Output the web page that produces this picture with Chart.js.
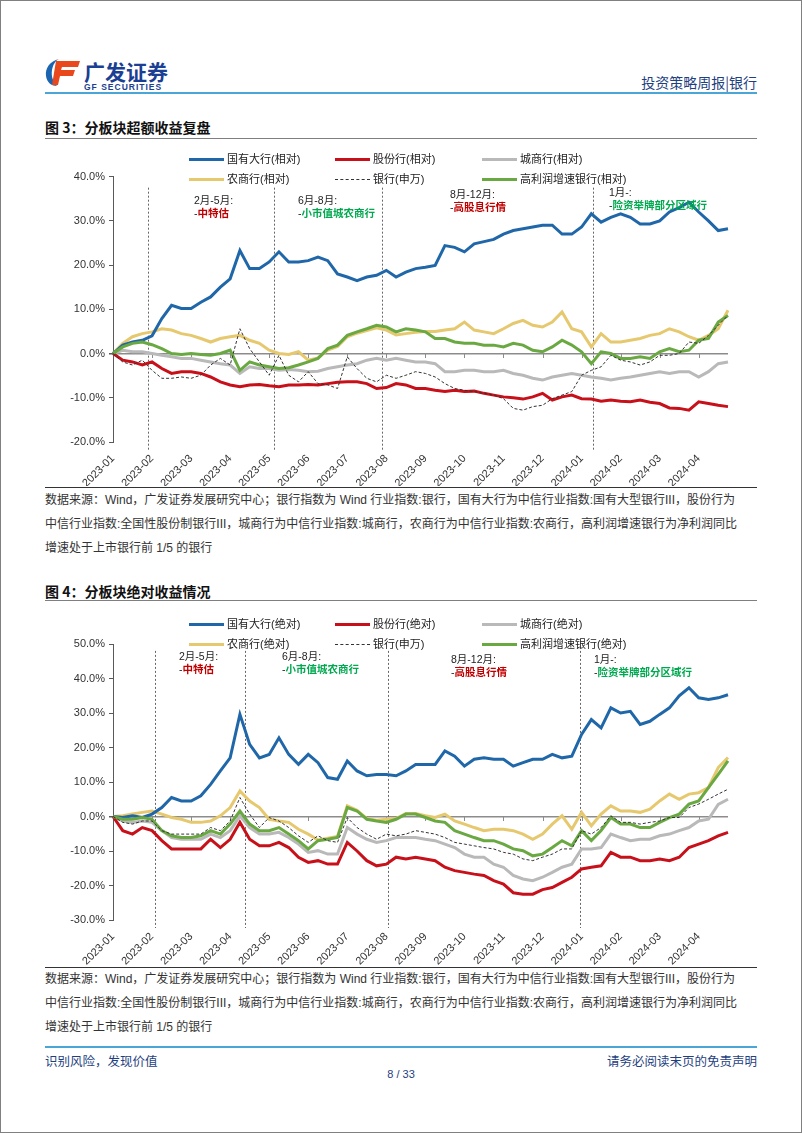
<!DOCTYPE html>
<html lang="zh">
<head>
<meta charset="UTF-8">
<title>分板块收益复盘</title>
<script src="https://cdn.jsdelivr.net/npm/chart.js@4.4.1/dist/chart.umd.min.js"></script>
<style>
    body { margin: 0; background: #fff; }
    .page {
        position: relative;
        width: 800px;
        height: 1131px;
        border: 1px solid #808080;
        font-family: "Liberation Sans", Arial, "Noto Sans CJK SC", sans-serif;
        color: #222;
        overflow: hidden;
    }
    .abs { position: absolute; white-space: nowrap; }
    .rule { position: absolute; left: 44px; width: 712px; }
    .brand { color: #1b3f93; font-weight: bold; line-height: 1; }
    .head-right { right: 44px; top: 71px; font-size: 14px; color: #1f3f7f; font-family: "Noto Sans CJK SC", sans-serif; }
    .fig-title { left: 44px; font-size: 14px; font-weight: bold; font-family: "Noto Sans CJK SC", sans-serif; color: #111; }
    .legend-item { position: absolute; display: flex; align-items: center; font-size: 11px; line-height: 16px; font-family: "Liberation Sans", "Noto Sans CJK SC", sans-serif; color: #222; }
    .legend-item i { display: inline-block; width: 35px; margin-right: 3px; }
    .note { left: 44px; font-size: 12px; line-height: 24px; color: #333; font-family: "Liberation Sans", "Noto Sans CJK SC", sans-serif; }
    .ann { font-size: 10.5px; line-height: 13px; font-family: "Liberation Sans", "Noto Sans CJK SC", sans-serif; }
    .red { color: #c00000; font-weight: bold; }
    .green { color: #00a84f; font-weight: bold; }
    .foot { top: 1050px; font-size: 12.5px; color: #1f3f7f; font-family: "Noto Sans CJK SC", sans-serif; }
    canvas { position: absolute; }
</style>
</head>
<body>
<div class="page" id="page">
    <!-- header -->
    <svg class="abs" style="left:44px;top:57px" width="36" height="29" viewBox="0 0 36 29">
        <path d="M14 1 C5 3 0 10 1 18 C2 25 7 28 12 28 C8 24 6 18 7 12 C8 7 10 3 14 1Z" fill="#1b64b0"/>
        <path d="M11 3 H35 L33 9 H17 L16 12 H30 L28 18 H15 L13 27 H7 Z" fill="#e8481c"/>
    </svg>
    <div class="abs brand" style="left:83px;top:60px;font-size:21px;font-family:'Noto Sans CJK SC',sans-serif;">广发证券</div>
    <div class="abs brand" style="left:83px;top:82px;font-size:8.5px;letter-spacing:1px;">GF SECURITIES</div>
    <div class="abs head-right">投资策略周报|银行</div>
    <div class="rule" style="top:91px;height:2px;background:#4ba6d8;"></div>

    <!-- figure 3 -->
    <div class="abs fig-title" style="top:116px;">图 3：分板块超额收益复盘</div>
    <div class="rule" style="top:137px;height:1px;background:#7f7f7f;"></div>
    <canvas id="chart1" width="712" height="320" style="left:44px;top:165px;width:712px;height:320px;"></canvas>
    <div class="abs ann" style="left:193px;top:193px;">2月-5月:<br>-<span class="red">中特估</span></div>
    <div class="abs ann" style="left:297px;top:193px;">6月-8月:<br>-<span class="green">小市值城农商行</span></div>
    <div class="abs ann" style="left:449px;top:187px;">8月-12月:<br>-<span class="red">高股息行情</span></div>
    <div class="abs ann" style="left:608px;top:185px;">1月-:<br>-<span class="green">险资举牌部分区域行</span></div>
    <div class="rule" style="top:486px;height:1px;background:#333;"></div>
    <div class="abs note" style="top:487px;">数据来源：Wind，广发证券发展研究中心；银行指数为 Wind 行业指数:银行，国有大行为中信行业指数:国有大型银行III，股份行为<br>中信行业指数:全国性股份制银行III，城商行为中信行业指数:城商行，农商行为中信行业指数:农商行，高利润增速银行为净利润同比<br>增速处于上市银行前 1/5 的银行</div>

    <!-- figure 4 -->
    <div class="abs fig-title" style="top:580px;">图 4：分板块绝对收益情况</div>
    <div class="rule" style="top:599px;height:1px;background:#7f7f7f;"></div>
    <canvas id="chart2" width="712" height="335" style="left:44px;top:630px;width:712px;height:335px;"></canvas>
    <div class="abs ann" style="left:178px;top:649px;">2月-5月:<br>-<span class="red">中特估</span></div>
    <div class="abs ann" style="left:281px;top:649px;">6月-8月:<br>-<span class="green">小市值城农商行</span></div>
    <div class="abs ann" style="left:450px;top:652px;">8月-12月:<br>-<span class="red">高股息行情</span></div>
    <div class="abs ann" style="left:593px;top:652px;">1月-:<br>-<span class="green">险资举牌部分区域行</span></div>
    <div class="rule" style="top:966px;height:1px;background:#333;"></div>
    <div class="abs note" style="top:966px;">数据来源：Wind，广发证券发展研究中心；银行指数为 Wind 行业指数:银行，国有大行为中信行业指数:国有大型银行III，股份行为<br>中信行业指数:全国性股份制银行III，城商行为中信行业指数:城商行，农商行为中信行业指数:农商行，高利润增速银行为净利润同比<br>增速处于上市银行前 1/5 的银行</div>

    <!-- footer -->
    <div class="rule" style="top:1045px;height:2px;background:#4ba6d8;"></div>
    <div class="abs foot" style="left:44px;">识别风险，发现价值</div>
    <div class="abs foot" style="right:44px;">请务必阅读末页的免责声明</div>
    <div class="abs" style="left:0;width:800px;text-align:center;top:1067px;font-size:11px;color:#1f3f7f;">8 / 33</div>
</div>

<script>
    // x axis: 4 samples per month label, 64 samples in total
    const monthLabels = ['2023-01', '2023-02', '2023-03', '2023-04', '2023-05', '2023-06', '2023-07', '2023-08',
        '2023-09', '2023-10', '2023-11', '2023-12', '2024-01', '2024-02', '2024-03', '2024-04'];
    const samplesPerLabel = 4;
    const sampleCount = 64;

    // 图3 relative returns (%)
    const bigRel = [0, 1.9, 2.6, 3, 4, 7.9, 10.9, 10.2, 10.2, 11.6, 12.8, 15, 16.9, 23.3, 19.2, 19.2, 20.7, 23, 20.7, 20.7,
        21, 21.8, 21, 18, 17.3, 16.5, 17.3, 17.7, 18.8, 17.3, 18.4, 19.2, 19.5, 19.9, 24.4, 24, 23, 24.8, 25.3, 25.8,
        27, 27.8, 28.2, 28.6, 29, 29, 27, 27, 28.6, 31.6, 29.7, 30.8, 31.6, 30.8, 29.3, 29.3, 30, 32, 33, 34.2,
        32, 30, 27.8, 28.2];
    const jointRel = [0, -1.5, -1.9, -2.6, -1.9, -3.4, -4.5, -4.1, -4.1, -4.5, -5.3, -6.4, -7.1, -7.5, -7.1, -7, -7.3, -7.5, -7.1, -7.1,
        -7, -7.1, -6.8, -6.5, -6.4, -6.4, -6.8, -7.9, -7.7, -6.8, -7.1, -7.9, -7.9, -8.3, -8.6, -8.3, -8.6, -8.5, -9, -9.4,
        -9.8, -10, -10.3, -9.8, -9, -10.5, -9.8, -9.4, -10.2, -10.3, -10.8, -10.5, -10.8, -10.9, -10.5, -11, -11.3, -12.3, -12.4, -12.8,
        -10.9, -11.3, -11.7, -12];
    const cityRel = [0, 0.75, 0.4, 0.4, 0, -0.4, -0.75, -1.1, -1.1, -1.5, -1.9, -2.3, -2.6, -4.5, -3, -3.4, -3.4, -3.8, -3.6, -3.8,
        -4.1, -4, -3.4, -3, -2.6, -2.3, -1.5, -1.1, -1.5, -1.1, -1.5, -1.9, -1.9, -2.3, -4.1, -4.1, -3.8, -3.8, -4.1, -4.1,
        -3.8, -4.5, -4.9, -5.6, -6, -5.3, -4.9, -4.5, -4.9, -5.3, -5.6, -6, -5.6, -5.3, -4.9, -4.5, -4.1, -4.5, -4.1, -4.1,
        -5.3, -4.1, -2.3, -1.9];
    const ruralRel = [0, 2.3, 3.8, 4.5, 4.9, 5.6, 5.3, 4.5, 4.1, 3.4, 2.6, 3.4, 3.8, 4.1, 3, 2.3, 0.75, 0, -0.2, 0.4,
        -1.5, -1, 0.8, 1.6, 3.8, 4.6, 5.2, 5.8, 5.3, 4.2, 4.5, 4.8, 5, 5, 5.3, 5.6, 7.1, 5.3, 4.9, 4.5,
        5.6, 6.8, 7.5, 6.4, 6, 7.1, 9.4, 5.6, 4.9, 1.5, 4.5, 2.6, 2.6, 3, 3.4, 4.1, 4.5, 5.6, 4.9, 3.8,
        3, 4.1, 5.6, 9.8];
    const bankSw1 = [0, -1.9, -2.6, -1.5, -3.8, -5.6, -5.6, -5.3, -5.6, -4.9, -2.6, -1.1, -2.6, 5.6, 1.1, -1.9, -4.9, -0.4, -4.9, -6.4,
        -4.1, -6.8, -7.1, -7.9, -0.75, -3.4, -5.6, -6.4, -4.9, -5.6, -4.9, -4.1, -4.5, -5.3, -6.8, -7.9, -8.3, -8.6, -9, -9.4,
        -10.2, -12.4, -12.8, -12, -11.7, -10.2, -9.4, -8.6, -4.9, -3.8, -3, -0.4, -1.5, -1.9, -2.6, -1.9, -0.4, -0.4, 0, 2.6,
        2.3, 4.1, 6.4, 8.6];
    const growthRel = [0, 1.5, 2.3, 2.6, 2, 1.1, 0, -0.2, 0, -0.2, -0.4, 0, 0.75, -3.8, -1.9, -2.6, -3, -3.4, -3.2, -2.6,
        -1.9, -1.1, 1.1, 1.9, 4.1, 4.9, 5.6, 6.4, 6, 4.9, 5.6, 5.3, 4.9, 3.4, 3.4, 2.6, 2.3, 2.3, 1.9, 1.9,
        1.5, 2.3, 1.9, 0.75, 0.4, 1.5, 3, 1.9, 0.4, -2.3, 0.4, 0, -1.1, -1.1, -0.75, -1.1, 0.4, 1.1, 0.4, 0.75,
        3, 3.4, 7.1, 8.6];

    // 图4 absolute returns (%)
    const bigAbs = [0, -0.3, 0.2, -0.3, 0.7, 2.6, 5.5, 4.5, 4.5, 6, 9.3, 13.2, 17, 29.6, 20.9, 17, 18, 22.8, 18, 15.1,
        18, 15.6, 11.3, 10.8, 16.1, 13.2, 11.8, 12.2, 12.2, 11.8, 13.2, 15.1, 15.1, 15.1, 19, 17.5, 14.6, 16.6, 17, 16.6,
        16.6, 14.6, 15.6, 16.6, 16.6, 18, 17, 17.5, 23.8, 28.1, 25.7, 31.5, 30, 30.5, 26.7, 27.6, 29.6, 31.5, 35, 37.3,
        34.4, 33.9, 34.4, 35.3];
    const jointAbs = [0, -4.1, -5.1, -3.2, -4.1, -7, -9.4, -9.4, -9.4, -9.4, -6.6, -9, -6.6, -1.7, -6.6, -8.5, -8.5, -7.5, -9, -11.8,
        -13.3, -12.8, -13.8, -13.8, -7.5, -10, -12.8, -14.3, -13.8, -11.8, -12.3, -11.8, -12.3, -12.8, -14.7, -15.7, -16.2, -16.7, -17.1, -18.6,
        -19.6, -22.1, -22.5, -22.5, -21.2, -20.6, -19.1, -17.6, -15.2, -14.7, -14.3, -10.4, -11.8, -11.8, -12.8, -12.8, -12.3, -12.8, -11.8, -9,
        -8, -7, -5.6, -4.6];
    const cityAbs = [0, -1.3, -1.7, -1.3, -1.7, -4.1, -6.1, -6.6, -6.6, -6.6, -5.1, -6.1, -4.1, 0.2, -3.2, -5.1, -5.1, -4.6, -6.1, -8,
        -10.4, -9.9, -10.9, -10.9, -3.2, -5.1, -6.6, -7.5, -7, -6.1, -6.1, -6.1, -6.6, -7, -8, -9, -10.9, -11.8, -11.8, -13.8,
        -14.7, -17.1, -18.1, -18.6, -17.6, -16.2, -14.7, -13.8, -9.4, -9.4, -9, -5.1, -6.1, -7, -6.6, -6.6, -5.6, -5.1, -4.1, -3.2,
        -1.3, -0.8, 3.5, 5];
    const ruralAbs = [0, 0.2, 0.7, 1.2, 1.6, 0.7, -0.3, -0.8, -1.7, -1.7, -1.3, 0.2, 2.6, 7.4, 4.5, 2.6, -0.8, -1.3, -1.7, -3.7,
        -5.1, -6.8, -6.3, -5.8, 3.1, 1.8, -0.6, -1.1, -0.8, -0.6, 0.9, 0.9, 0.2, -0.3, 0.7, -1.3, -2.2, -3.2, -4.1, -3.7,
        -3.7, -4.1, -5.1, -6.6, -5.1, -2.2, 0.2, -3.7, 1.2, -2.7, 0.7, 3.1, 1.6, 1.6, 1.2, 2.1, 4.5, 6.5, 5, 6.5,
        6.9, 8.4, 14.2, 17.1];
    const bankSw2 = [0, -1.7, -2.2, -1.3, -1.3, -4.1, -5.1, -5.1, -5.1, -5.1, -3.2, -4.1, -1.3, 5.5, 0.7, -3.2, -0.3, -1.3, -3.2, -5.6,
        -7.5, -5.6, -7, -7.5, -0.3, -3.2, -5.1, -6.6, -5.1, -5.6, -5.1, -4.1, -4.6, -5.1, -6.1, -7.5, -8, -8.5, -9, -9.4,
        -10.4, -10.9, -12.3, -12.8, -11.8, -10.9, -9.4, -9.4, -4.1, -5.1, -3.2, 0.2, -1.7, -1.7, -2.2, -1.7, -1.3, -0.3, -0.3, 2.6,
        3.6, 5, 6.5, 7.9];
    const growthAbs = [0, -0.8, -0.8, -0.3, -0.8, -4.1, -5.6, -6.1, -6.1, -5.6, -4.1, -5.1, -2.2, 1.6, -2.2, -4.1, -4.1, -3.2, -5.1, -7,
        -9.4, -7, -6.6, -6.1, 2.6, 1.6, -0.8, -1.3, -1.7, -0.8, 0.7, 0.7, -0.3, -1.3, -1.7, -4.1, -5.1, -6.1, -7, -7,
        -8, -9.4, -9.9, -11.4, -10.9, -9, -7, -8.5, -4.1, -7, -4.1, -0.3, -2.2, -2.2, -3.2, -3.2, -1.7, -0.3, 0.7, 3.6,
        4.5, 8.4, 12.2, 16.1];

    // phase markers (in sample index units)
    const phases1 = [3.6, 16.5, 27.6, 49.2];
    const phases2 = [4.3, 13.5, 28.2, 47.8];

    const xLabels = Array.from({length: sampleCount}, (_, i) =>
        i % samplesPerLabel === 0 ? monthLabels[i / samplesPerLabel] : '');

    const colors = {
        big: '#1f67a8',
        joint: '#c8101a',
        city: '#b9b9b9',
        rural: '#e6c86e',
        bank: '#333333',
        growth: '#6aa842'
    };

    Chart.defaults.font.family = '"Liberation Sans", Arial, "Noto Sans CJK SC", sans-serif';
    Chart.defaults.font.size = 11;
    Chart.defaults.color = '#333';

    // dashed phase lines + little tick marks on the zero line
    const phasePlugin = {
        id: 'phases',
        beforeDatasetsDraw(chart, args, opts) {
            const {ctx, chartArea, scales: {x, y}} = chart;
            ctx.save();
            ctx.strokeStyle = '#666';
            ctx.lineWidth = 1;
            ctx.setLineDash([2, 2]);
            opts.marks.forEach(m => {
                const px = Math.round(x.getPixelForValue(m)) + 0.5;
                ctx.beginPath();
                ctx.moveTo(px, y.getPixelForValue(opts.top));
                ctx.lineTo(px, chartArea.bottom + 8);
                ctx.stroke();
            });
            ctx.setLineDash([]);
            ctx.strokeStyle = '#8c8c8c';
            const y0 = Math.round(y.getPixelForValue(0));
            for (let i = samplesPerLabel; i < sampleCount; i += samplesPerLabel) {
                const px = Math.round(x.getPixelForValue(i)) + 0.5;
                ctx.beginPath();
                ctx.moveTo(px, y0);
                ctx.lineTo(px, y0 + 4);
                ctx.stroke();
            }
            ctx.restore();
        }
    };

    function lineSet(label, data, color, order, dashed) {
        return {
            label: label,
            data: data,
            borderColor: color,
            backgroundColor: color,
            borderWidth: dashed ? 1 : 3,
            borderDash: dashed ? [3, 2] : [],
            pointRadius: 0,
            tension: 0,
            fill: false,
            order: order
        };
    }

    function makeChart(id, sets, yMin, yMax, padTop, xHeight, marks, markTop) {
        return new Chart(document.getElementById(id), {
            type: 'line',
            data: { labels: xLabels, datasets: sets },
            options: {
                responsive: false,
                animation: false,
                layout: { padding: { top: padTop, right: 29, left: 0, bottom: 0 } },
                plugins: {
                    legend: { display: false },
                    tooltip: { enabled: false },
                    phases: { marks: marks, top: markTop }
                },
                scales: {
                    x: {
                        grid: { display: false },
                        border: { display: false },
                        ticks: {
                            autoSkip: false,
                            minRotation: 45,
                            maxRotation: 45,
                            padding: 2,
                            color: '#333',
                            callback: (v, i) => xLabels[i]
                        },
                        afterFit: s => { s.height = xHeight; }
                    },
                    y: {
                        min: yMin,
                        max: yMax,
                        border: { display: true, color: '#595959', width: 1 },
                        grid: {
                            color: c => c.tick && c.tick.value === 0 ? '#8c8c8c' : 'rgba(0,0,0,0)',
                            lineWidth: c => c.tick && c.tick.value === 0 ? 1.5 : 1,
                            tickColor: '#595959',
                            tickLength: 4
                        },
                        ticks: {
                            stepSize: 10,
                            padding: 4,
                            color: '#333',
                            callback: v => v.toFixed(1) + '%'
                        },
                        afterFit: s => { s.width = 68; }
                    }
                }
            },
            plugins: [phasePlugin]
        });
    }

    makeChart('chart1', [
        lineSet('银行(申万)', bankSw1, colors.bank, 0, true),
        lineSet('高利润增速银行(相对)', growthRel, colors.growth, 1),
        lineSet('国有大行(相对)', bigRel, colors.big, 2),
        lineSet('股份行(相对)', jointRel, colors.joint, 3),
        lineSet('农商行(相对)', ruralRel, colors.rural, 4),
        lineSet('城商行(相对)', cityRel, colors.city, 5)
    ], -20, 40, 10, 44, phases1, 37.5);

    makeChart('chart2', [
        lineSet('银行(申万)', bankSw2, colors.bank, 0, true),
        lineSet('高利润增速银行(绝对)', growthAbs, colors.growth, 1),
        lineSet('国有大行(绝对)', bigAbs, colors.big, 2),
        lineSet('股份行(绝对)', jointAbs, colors.joint, 3),
        lineSet('农商行(绝对)', ruralAbs, colors.rural, 4),
        lineSet('城商行(绝对)', cityAbs, colors.city, 5)
    ], -30, 50, 13, 46, phases2, 48);

    // html legends, 3 x 2 grid like the original
    function buildLegend(items, top) {
        const page = document.getElementById('page');
        const cols = [188, 334, 481];
        items.forEach((it, k) => {
            const el = document.createElement('div');
            el.className = 'legend-item';
            el.style.left = cols[k % 3] + 'px';
            el.style.top = (top + Math.floor(k / 3) * 20) + 'px';
            const swatch = it.dashed
                ? `<i style="border-top:1px dashed ${it.color}"></i>`
                : `<i style="border-top:3px solid ${it.color}"></i>`;
            el.innerHTML = swatch + it.label;
            page.appendChild(el);
        });
    }

    buildLegend([
        {label: '国有大行(相对)', color: colors.big},
        {label: '股份行(相对)', color: colors.joint},
        {label: '城商行(相对)', color: colors.city},
        {label: '农商行(相对)', color: colors.rural},
        {label: '银行(申万)', color: colors.bank, dashed: true},
        {label: '高利润增速银行(相对)', color: colors.growth}
    ], 150);

    buildLegend([
        {label: '国有大行(绝对)', color: colors.big},
        {label: '股份行(绝对)', color: colors.joint},
        {label: '城商行(绝对)', color: colors.city},
        {label: '农商行(绝对)', color: colors.rural},
        {label: '银行(申万)', color: colors.bank, dashed: true},
        {label: '高利润增速银行(绝对)', color: colors.growth}
    ], 615);
</script>
</body>
</html>
